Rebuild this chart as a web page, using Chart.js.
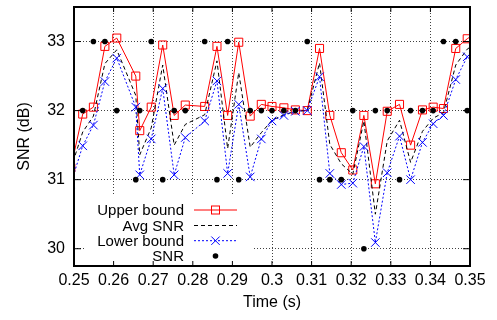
<!DOCTYPE html>
<html>
<head>
<meta charset="utf-8">
<script src="https://cdn.jsdelivr.net/npm/chart.js@4/dist/chart.umd.min.js"></script>
<style>
  html, body { margin: 0; padding: 0; background: #fff; }
  #wrap { width: 497px; height: 320px; }
</style>
</head>
<body>
<div id="wrap"><canvas id="snrChart" width="497" height="320"></canvas></div>
<script>
// sample times (s); first and last fall just outside the visible range
const times = [0.2492, 0.2522, 0.2549, 0.2578, 0.2608, 0.2656, 0.2666, 0.2695, 0.2724, 0.2753,
               0.2781, 0.2830, 0.2861, 0.2888, 0.2916, 0.2945, 0.2973, 0.3000, 0.3030, 0.3059,
               0.3089, 0.3120, 0.3146, 0.3175, 0.3204, 0.3232, 0.3261, 0.3291, 0.3322, 0.3350,
               0.3380, 0.3407, 0.3433, 0.3464, 0.3493, 0.3522];

const upperBound = [31.17, 31.95, 32.05, 32.93, 33.05, 32.50, 31.71, 32.05, 32.95, 31.93,
                    32.08, 32.06, 32.93, 31.93, 32.99, 31.92, 32.09, 32.06, 32.04, 32.01,
                    32.00, 32.90, 31.93, 31.39, 31.14, 31.93, 30.94, 31.99, 32.09, 31.50,
                    32.01, 32.05, 32.03, 32.90, 33.04, 33.15];

const avgSnr = [31.16, 31.69, 31.92, 32.68, 32.88, 32.22, 31.36, 31.75, 32.66, 31.50,
                31.80, 31.94, 32.72, 31.45, 32.55, 31.47, 31.68, 31.86, 31.94, 31.99,
                32.00, 32.69, 31.51, 31.23, 31.08, 31.85, 30.50, 31.56, 31.86, 31.25,
                31.70, 31.89, 31.97, 32.66, 32.89, 33.00];

const lowerBound = [30.94, 31.49, 31.79, 32.42, 32.76, 32.05, 31.07, 31.59, 32.32, 31.07,
                    31.61, 31.85, 32.43, 31.09, 32.09, 31.04, 31.59, 31.85, 31.93, 31.99,
                    32.00, 32.49, 31.09, 30.93, 30.95, 31.48, 30.09, 31.10, 31.63, 31.00,
                    31.54, 31.81, 31.93, 32.45, 32.78, 32.95];

const snr = [null, 32, 33, 33, 32, 31, 32, 33, 31, 32,
             32, 33, 31, 33, 31, 32, 32, 32, 32, 32,
             33, 31, 31, 31, 32, 30, 32, 32, 31, 32,
             32, 32, 33, 33, 32, null];

const xTicks = [0.25, 0.26, 0.27, 0.28, 0.29, 0.30, 0.31, 0.32, 0.33, 0.34, 0.35];
const xTickLabels = ['0.25', '0.26', '0.27', '0.28', '0.29', '0.3', '0.31', '0.32', '0.33', '0.34', '0.35'];
const yTicks = [30, 31, 32, 33];
const legendLabels = ['Upper bound', 'Avg SNR', 'Lower bound', 'SNR'];

const RED = '#ff0000';
const BLUE = '#0000ff';
const FONT = "'Liberation Sans', Arial, sans-serif";

Chart.defaults.font.family = FONT;
Chart.defaults.color = '#000';

const toPoints = vals => times.map((t, i) => ({ x: t, y: vals[i] }));

// gnuplot style key (opaque box), border frame and inward tics
const gnuplotFrame = {
    id: 'gnuplotFrame',
    afterDatasetsDraw(chart) {
        const { ctx, chartArea: a, scales } = chart;
        ctx.save();

        // key box
        const boxLeft = a.left + 10, boxTop = a.bottom - 72;
        ctx.fillStyle = '#fff';
        ctx.fillRect(boxLeft, boxTop, 170, a.bottom - boxTop);

        const textRight = a.left + 110;
        const lineStart = a.left + 120, lineEnd = a.left + 163;
        const mid = (lineStart + lineEnd) / 2;
        const rowY = [a.bottom - 56, a.bottom - 40.5, a.bottom - 25.3, a.bottom - 10];

        ctx.font = '15px ' + FONT;
        ctx.textAlign = 'right';
        ctx.textBaseline = 'middle';
        ctx.fillStyle = '#000';
        legendLabels.forEach((label, i) => ctx.fillText(label, textRight, rowY[i] + 1));

        ctx.lineWidth = 1;
        // upper bound
        ctx.strokeStyle = RED;
        ctx.setLineDash([]);
        ctx.beginPath(); ctx.moveTo(lineStart, rowY[0]); ctx.lineTo(lineEnd, rowY[0]); ctx.stroke();
        ctx.strokeRect(mid - 4, rowY[0] - 4, 8, 8);
        // avg
        ctx.strokeStyle = '#000';
        ctx.setLineDash([4, 3]);
        ctx.beginPath(); ctx.moveTo(lineStart, rowY[1]); ctx.lineTo(lineEnd, rowY[1]); ctx.stroke();
        // lower bound
        ctx.strokeStyle = BLUE;
        ctx.setLineDash([2, 2]);
        ctx.beginPath(); ctx.moveTo(lineStart, rowY[2]); ctx.lineTo(lineEnd, rowY[2]); ctx.stroke();
        ctx.setLineDash([]);
        ctx.beginPath();
        ctx.moveTo(mid - 4.2, rowY[2] - 4.2); ctx.lineTo(mid + 4.2, rowY[2] + 4.2);
        ctx.moveTo(mid - 4.2, rowY[2] + 4.2); ctx.lineTo(mid + 4.2, rowY[2] - 4.2);
        ctx.stroke();
        // snr dot
        ctx.fillStyle = '#000';
        ctx.beginPath(); ctx.arc(mid, rowY[3], 2.8, 0, Math.PI * 2); ctx.fill();

        // frame
        ctx.strokeStyle = '#000';
        ctx.lineWidth = 2;
        ctx.strokeRect(a.left, a.top, a.right - a.left, a.bottom - a.top);

        // inward tics
        ctx.lineWidth = 1;
        ctx.beginPath();
        xTicks.forEach(v => {
            const px = scales.x.getPixelForValue(v);
            ctx.moveTo(px, a.bottom); ctx.lineTo(px, a.bottom - 5);
            ctx.moveTo(px, a.top); ctx.lineTo(px, a.top + 5);
        });
        yTicks.forEach(v => {
            const py = scales.y.getPixelForValue(v);
            ctx.moveTo(a.left, py); ctx.lineTo(a.left + 7, py);
            ctx.moveTo(a.right, py); ctx.lineTo(a.right - 7, py);
        });
        ctx.stroke();
        ctx.restore();
    }
};

const gridStyle = { color: 'rgba(0,0,0,0.75)', lineWidth: 1, drawTicks: false };

const noPad = s => { s.paddingTop = 0; s.paddingBottom = 0; s.paddingLeft = 0; s.paddingRight = 0; };

new Chart(document.getElementById('snrChart'), {
    type: 'scatter',
    data: {
        datasets: [
            {
                label: 'Upper bound',
                data: toPoints(upperBound),
                showLine: true,
                borderColor: RED,
                borderWidth: 1,
                pointStyle: 'rect',
                pointRadius: 5.7,
                pointBorderColor: RED,
                pointBackgroundColor: 'rgba(0,0,0,0)',
                pointBorderWidth: 1,
                order: 3
            },
            {
                label: 'Avg SNR',
                data: toPoints(avgSnr),
                showLine: true,
                borderColor: '#000',
                borderWidth: 1,
                borderDash: [4, 3],
                pointRadius: 0,
                order: 2
            },
            {
                label: 'Lower bound',
                data: toPoints(lowerBound),
                showLine: true,
                borderColor: BLUE,
                borderWidth: 1,
                borderDash: [2, 2],
                pointStyle: 'crossRot',
                pointRadius: 6,
                pointBorderColor: BLUE,
                pointBorderWidth: 1,
                order: 1
            },
            {
                label: 'SNR',
                data: toPoints(snr),
                showLine: false,
                pointStyle: 'circle',
                pointRadius: 2.8,
                pointBackgroundColor: '#000',
                pointBorderWidth: 0,
                order: 0
            }
        ]
    },
    options: {
        responsive: false,
        animation: false,
        layout: { padding: { top: 5, right: 27, left: 0, bottom: 0 } },
        plugins: {
            legend: { display: false },
            tooltip: { enabled: false }
        },
        scales: {
            x: {
                type: 'linear',
                min: 0.25,
                max: 0.35,
                afterBuildTicks: s => { s.ticks = xTicks.map(v => ({ value: v })); },
                afterFit: s => { s.height = 54; noPad(s); },
                ticks: {
                    autoSkip: false,
                    maxRotation: 0,
                    padding: 5,
                    color: '#000',
                    font: { size: 16 },
                    callback: (v, i) => xTickLabels[i]
                },
                grid: gridStyle,
                border: { display: false, dash: [1, 2] },
                title: {
                    display: true,
                    text: 'Time (s)',
                    color: '#000',
                    font: { size: 16 },
                    padding: { top: 0, bottom: 8 }
                }
            },
            y: {
                min: 29.75,
                max: 33.5,
                afterBuildTicks: s => { s.ticks = yTicks.map(v => ({ value: v })); },
                afterFit: s => { s.width = 74; noPad(s); },
                ticks: {
                    padding: 9,
                    color: '#000',
                    font: { size: 16 }
                },
                grid: gridStyle,
                border: { display: false, dash: [1, 2] },
                title: {
                    display: true,
                    text: 'SNR (dB)',
                    color: '#000',
                    font: { size: 16 },
                    padding: { top: 15, bottom: 0 }
                }
            }
        }
    },
    plugins: [gnuplotFrame]
});
</script>
</body>
</html>
